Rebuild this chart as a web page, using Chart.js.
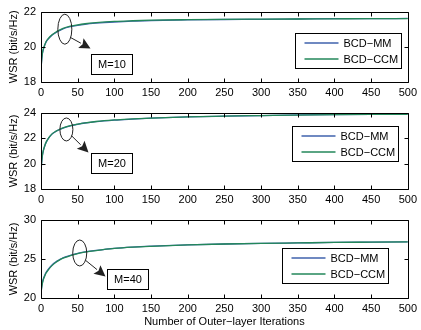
<!DOCTYPE html>
<html>
<head>
<meta charset="utf-8">
<script src="https://cdn.jsdelivr.net/npm/chart.js@4.4.0/dist/chart.umd.min.js"></script>
<style>
  html, body { margin: 0; padding: 0; background: #fff; }
  #wrap { position: relative; width: 421px; height: 330px; }
  .panel { position: absolute; left: 0; width: 421px; }
</style>
</head>
<body>
<div id="wrap">
  <div class="panel" style="top:0;height:100px"><canvas id="wsr10" width="421" height="100"></canvas></div>
  <div class="panel" style="top:100px;height:107px"><canvas id="wsr20" width="421" height="107"></canvas></div>
  <div class="panel" style="top:207px;height:123px"><canvas id="wsr40" width="421" height="123"></canvas></div>
</div>
<script>
const iterations = [0, 1, 2, 3, 5, 7, 10, 15, 20, 25, 30, 40, 50, 60, 75, 100, 125, 150, 200, 250, 300, 350, 400, 450, 500];
const xTicks = [0, 50, 100, 150, 200, 250, 300, 350, 400, 450, 500];

// M = 10
const mm10  = [18.7, 19.3, 19.62, 19.82, 20.08, 20.28, 20.45, 20.66, 20.8, 20.92, 21.02, 21.14, 21.22, 21.28, 21.34, 21.41, 21.46, 21.49, 21.53, 21.55, 21.56, 21.58, 21.6, 21.6, 21.61];
const ccm10 = [18.7, 19.3, 19.65, 19.85, 20.1, 20.3, 20.47, 20.68, 20.83, 20.95, 21.05, 21.17, 21.25, 21.31, 21.37, 21.44, 21.48, 21.51, 21.54, 21.56, 21.57, 21.58, 21.59, 21.6, 21.6];
const yTicks10 = [18, 20, 22];

// M = 20
const mm20  = [19.4, 20.15, 20.65, 20.97, 21.38, 21.68, 21.98, 22.33, 22.54, 22.69, 22.81, 22.99, 23.11, 23.21, 23.32, 23.44, 23.52, 23.59, 23.69, 23.75, 23.8, 23.85, 23.88, 23.9, 23.91];
const ccm20 = [19.4, 20.2, 20.7, 21.0, 21.4, 21.7, 22.0, 22.35, 22.55, 22.7, 22.82, 23.0, 23.12, 23.22, 23.33, 23.45, 23.53, 23.6, 23.7, 23.76, 23.8, 23.84, 23.87, 23.89, 23.9];
const yTicks20 = [18, 20, 22, 24];

// M = 40
const mm40  = [20.6, 21.5, 22.0, 22.4, 22.9, 23.3, 23.7, 24.25, 24.62, 24.9, 25.15, 25.46, 25.72, 25.9, 26.1, 26.37, 26.53, 26.64, 26.8, 26.92, 27.0, 27.06, 27.12, 27.16, 27.2];
const ccm40 = [20.6, 21.4, 21.9, 22.3, 22.8, 23.2, 23.6, 24.15, 24.55, 24.85, 25.1, 25.42, 25.7, 25.88, 26.08, 26.35, 26.52, 26.63, 26.8, 26.92, 27.0, 27.06, 27.12, 27.16, 27.2];
const yTicks40 = [20, 25, 30];

const seriesNames = ["BCD\u2212MM", "BCD\u2212CCM"];
const seriesColors = ["#3f62ad", "#23875a"];

const FONT = "'Liberation Sans', Arial, Helvetica, sans-serif";

// box around the plot area with MATLAB style inward ticks on all four sides
const framePlugin = {
  id: "frame",
  afterDatasetsDraw(chart) {
    const { ctx, chartArea: a, scales } = chart;
    const L = Math.round(a.left) + 0.5, R = Math.round(a.right) + 0.5;
    const T = Math.round(a.top) + 0.5, B = Math.round(a.bottom) + 0.5;
    const len = 4;
    ctx.save();
    ctx.strokeStyle = "#000";
    ctx.lineWidth = 1;
    ctx.beginPath();
    ctx.rect(L, T, R - L, B - T);
    scales.x.ticks.forEach((t, i) => {
      const px = Math.round(scales.x.getPixelForTick(i)) + 0.5;
      ctx.moveTo(px, B); ctx.lineTo(px, B - len);
      ctx.moveTo(px, T); ctx.lineTo(px, T + len);
    });
    scales.y.ticks.forEach((t, i) => {
      const py = Math.round(scales.y.getPixelForTick(i)) + 0.5;
      ctx.moveTo(L, py); ctx.lineTo(L + len, py);
      ctx.moveTo(R, py); ctx.lineTo(R - len, py);
    });
    ctx.stroke();
    ctx.restore();
  }
};

// boxed legend placed inside the plot area
const boxLegendPlugin = {
  id: "boxLegend",
  afterDatasetsDraw(chart, args, opts) {
    const { ctx, chartArea: a } = chart;
    const w = 106, h = 35;
    const x = Math.round(a.right - opts.right - w) + 0.5;
    const y = Math.round(a.top + opts.top) + 0.5;
    ctx.save();
    ctx.fillStyle = "#fff";
    ctx.fillRect(x, y, w, h);
    ctx.strokeStyle = "#000";
    ctx.lineWidth = 1;
    ctx.strokeRect(x, y, w, h);
    ctx.font = "11px " + FONT;
    ctx.textBaseline = "middle";
    seriesNames.forEach((name, i) => {
      const ly = Math.round(y + 9 + i * 16);
      ctx.strokeStyle = seriesColors[i];
      ctx.lineWidth = 1.3;
      ctx.beginPath();
      ctx.moveTo(x + 9, ly);
      ctx.lineTo(x + 43, ly);
      ctx.stroke();
      ctx.fillStyle = "#000";
      ctx.fillText(name, x + 48, ly + 0.5);
    });
    ctx.restore();
  }
};

// ellipse around the curves with an arrow to the "M=.." label
const notePlugin = {
  id: "note",
  afterDatasetsDraw(chart, args, o) {
    const { ctx, scales: { x, y } } = chart;
    const cx = x.getPixelForValue(o.at[0]);
    const cy = y.getPixelForValue(o.at[1]);
    const bx = Math.round(x.getPixelForValue(o.box[0])) + 0.5;
    const by = Math.round(y.getPixelForValue(o.box[1])) + 0.5;
    ctx.save();
    ctx.strokeStyle = "#222";
    ctx.fillStyle = "#222";
    ctx.lineWidth = 1;
    ctx.beginPath();
    ctx.ellipse(cx, cy, o.rx, o.ry, 0, 0, Math.PI * 2);
    ctx.stroke();

    const sx = cx + o.rx * 0.8, sy = cy + o.ry * 0.55;
    const tx = bx + o.tip[0], ty = by + o.tip[1];
    const ang = Math.atan2(ty - sy, tx - sx);
    const hl = 11, hw = 5.5;
    const baseX = tx - hl * Math.cos(ang), baseY = ty - hl * Math.sin(ang);
    ctx.beginPath();
    ctx.moveTo(sx, sy);
    ctx.lineTo(baseX, baseY);
    ctx.stroke();
    ctx.beginPath();
    ctx.moveTo(tx, ty);
    ctx.lineTo(baseX + hw * Math.sin(ang), baseY - hw * Math.cos(ang));
    ctx.lineTo(baseX + 2 * Math.cos(ang), baseY + 2 * Math.sin(ang));
    ctx.lineTo(baseX - hw * Math.sin(ang), baseY + hw * Math.cos(ang));
    ctx.closePath();
    ctx.fill();

    ctx.fillStyle = "#fff";
    ctx.fillRect(bx, by, 41, 20);
    ctx.strokeStyle = "#000";
    ctx.strokeRect(bx, by, 41, 20);
    ctx.fillStyle = "#000";
    ctx.font = "11px " + FONT;
    ctx.textAlign = "center";
    ctx.textBaseline = "middle";
    ctx.fillText(o.text, bx + 20.5, by + 10.5);
    ctx.restore();
  }
};

function toPoints(values) {
  return iterations.map((it, i) => ({ x: it, y: values[i] }));
}

function makeChart(id, mm, ccm, yTicks, note, legend, layout) {
  return new Chart(document.getElementById(id), {
    type: "line",
    data: {
      datasets: [
        { label: seriesNames[0], data: toPoints(mm), borderColor: seriesColors[0], order: 1 },
        { label: seriesNames[1], data: toPoints(ccm), borderColor: seriesColors[1], order: 0 }
      ]
    },
    options: {
      responsive: false,
      animation: false,
      events: [],
      layout: { padding: { top: layout.top, right: 11, bottom: 0, left: 0 } },
      elements: {
        point: { radius: 0 },
        line: { borderWidth: 1.3, cubicInterpolationMode: "monotone", fill: false }
      },
      plugins: {
        legend: { display: false },
        tooltip: { enabled: false },
        note: note,
        boxLegend: legend
      },
      scales: {
        x: {
          type: "linear",
          min: 0,
          max: 500,
          afterBuildTicks: (s) => { s.ticks = xTicks.map((v) => ({ value: v })); },
          afterFit: (s) => { s.height = layout.xHeight; },
          grid: { display: false, drawTicks: false },
          border: { display: false },
          ticks: { color: "#000", padding: 4, maxRotation: 0, autoSkip: false, font: { family: FONT, size: 11 } },
          title: {
            display: layout.xTitle,
            text: "Number of Outer\u2212layer Iterations",
            color: "#000",
            padding: { top: 0, bottom: 1 },
            font: { family: FONT, size: 11 }
          }
        },
        y: {
          type: "linear",
          min: yTicks[0],
          max: yTicks[yTicks.length - 1],
          afterBuildTicks: (s) => { s.ticks = yTicks.map((v) => ({ value: v })); },
          afterFit: (s) => { s.width = 41; },
          grid: { display: false, drawTicks: false },
          border: { display: false },
          ticks: { color: "#000", padding: 5, font: { family: FONT, size: 11 } },
          title: {
            display: true,
            text: "WSR (bit/s/Hz)",
            color: "#000",
            padding: { top: 7, bottom: 0 },
            font: { family: FONT, size: 11 }
          }
        }
      }
    },
    plugins: [framePlugin, notePlugin, boxLegendPlugin]
  });
}

makeChart("wsr10", mm10, ccm10, yTicks10,
  { at: [32.5, 21.0], rx: 7, ry: 15, box: [67.8, 19.58], tip: [-1, -6], text: "M=10" },
  { top: 21, right: 7 },
  { top: 6, xHeight: 18, xTitle: false });

makeChart("wsr20", mm20, ccm20, yTicks20,
  { at: [34.6, 22.7], rx: 6.5, ry: 11.5, box: [67.8, 20.84], tip: [-3, -1], text: "M=20" },
  { top: 13, right: 10 },
  { top: 13, xHeight: 18, xTitle: false });

makeChart("wsr40", mm40, ccm40, yTicks40,
  { at: [52.8, 25.77], rx: 7, ry: 13, box: [89.4, 23.72], tip: [-2, 7], text: "M=40" },
  { top: 28, right: 20 },
  { top: 13, xHeight: 32, xTitle: true });
</script>
</body>
</html>
